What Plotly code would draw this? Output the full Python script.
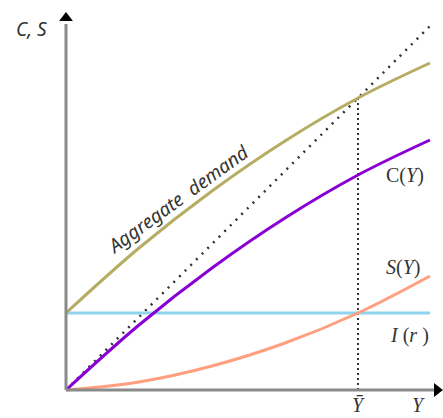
import plotly.graph_objects as go

# Data (arbitrary units)
Y = [0, 73, 146, 219, 292, 364]
C = [0, 65, 122, 172, 215, 250]
S = [0, 8, 24, 47, 77, 114]
AD = [77, 142, 199, 249, 292, 327]
I_level = 77
Y_bar = 292
line45_end = 364

fig = go.Figure()

# axes
fig.add_shape(type="line", x0=0, y0=0, x1=0, y1=366, line=dict(color="#8a8a8a", width=3))
fig.add_shape(type="line", x0=0, y0=0, x1=368, y1=0, line=dict(color="#8a8a8a", width=3))
fig.add_trace(go.Scatter(x=[0], y=[372], mode="markers",
                         marker=dict(symbol="triangle-up", size=12, color="black"),
                         showlegend=False, hoverinfo="skip"))
fig.add_trace(go.Scatter(x=[371], y=[0], mode="markers",
                         marker=dict(symbol="triangle-right", size=12, color="black"),
                         showlegend=False, hoverinfo="skip"))

# 45 degree dotted line
fig.add_trace(go.Scatter(x=[0, line45_end], y=[0, line45_end], mode="lines",
                         line=dict(color="#333333", width=2.5, dash="2px,6px"),
                         showlegend=False, hoverinfo="skip"))
# vertical dotted at Y bar
fig.add_trace(go.Scatter(x=[Y_bar, Y_bar], y=[0, 295], mode="lines",
                         line=dict(color="#333333", width=2, dash="2px,3px"),
                         showlegend=False, hoverinfo="skip"))

# investment
fig.add_trace(go.Scatter(x=[0, Y[-1]], y=[I_level, I_level], mode="lines",
                         line=dict(color="#8fd3ee", width=3), showlegend=False))
# saving
fig.add_trace(go.Scatter(x=Y, y=S, mode="lines", line=dict(color="#ff9f80", width=3, shape="spline"),
                         showlegend=False))
# consumption
fig.add_trace(go.Scatter(x=Y, y=C, mode="lines", line=dict(color="#8a00d4", width=3, shape="spline"),
                         showlegend=False))
# aggregate demand
fig.add_trace(go.Scatter(x=Y, y=AD, mode="lines", line=dict(color="#b5ad62", width=3, shape="spline"),
                         showlegend=False))

lab_font = dict(family="Liberation Serif", size=20, color="#333333")
fig.add_annotation(x=-35, y=361, text="<i>C, S</i>", showarrow=False,
                   font=dict(family="Noto Sans", size=19, color="#333333"))
fig.add_annotation(x=352, y=-15, text="<i>Y</i>", showarrow=False, font=lab_font)
fig.add_annotation(x=Y_bar, y=-15, text="<i>Ȳ</i>", showarrow=False, font=lab_font)
fig.add_annotation(x=318, y=215, text="C(<i>Y</i>)", showarrow=False, font=lab_font, xanchor="left")
fig.add_annotation(x=318, y=123, text="<i>S</i>(<i>Y</i>)", showarrow=False, font=lab_font, xanchor="left")
fig.add_annotation(x=322, y=55, text="<i>I</i> (<i>r</i> )", showarrow=False, font=lab_font, xanchor="left")
fig.add_annotation(x=112, y=191, text="<i>Aggregate  demand</i>", showarrow=False, textangle=-36,
                   font=dict(family="Noto Sans", size=19, color="#333333"))

fig.update_layout(
    width=443, height=418,
    margin=dict(l=0, r=0, t=0, b=0),
    paper_bgcolor="white", plot_bgcolor="white",
    xaxis=dict(range=[-66, 377], visible=False, fixedrange=True),
    yaxis=dict(range=[-28, 390], visible=False, fixedrange=True),
)

fig.write_html("out.html", config={"displayModeBar": False},
               post_script="document.body.style.margin='0';")
